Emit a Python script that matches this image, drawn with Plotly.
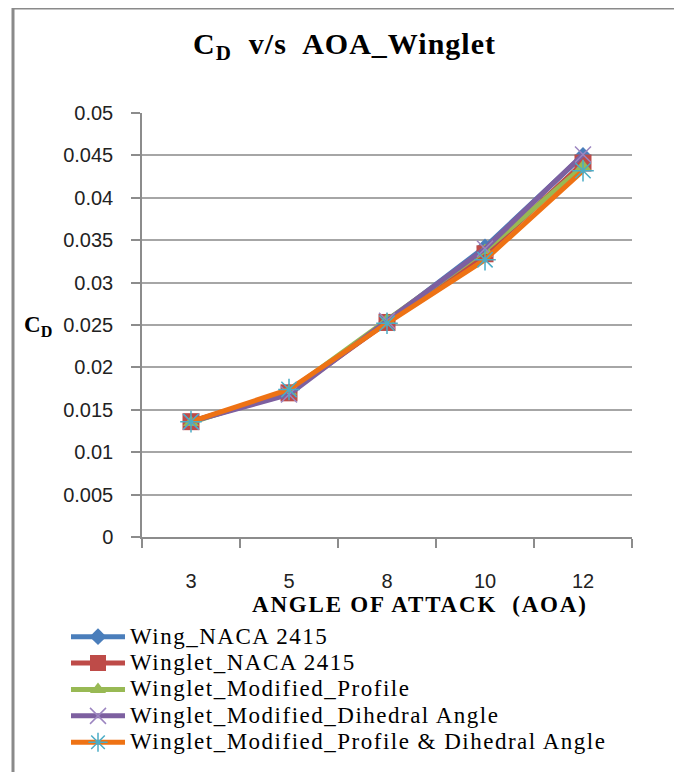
import plotly.graph_objects as go

aoa = ["3", "5", "8", "10", "12"]
wing_naca = [0.0136, 0.0171, 0.0254, 0.0342, 0.0450]
winglet_naca = [0.0136, 0.0170, 0.0253, 0.0334, 0.0441]
winglet_profile = [0.0135, 0.0172, 0.0256, 0.0338, 0.0437]
winglet_dihedral = [0.0136, 0.0168, 0.0255, 0.0340, 0.0451]
winglet_profile_dihedral = [0.0136, 0.0174, 0.0252, 0.0327, 0.0432]

names = ["Wing_NACA 2415", "Winglet_NACA 2415", "Winglet_Modified_Profile",
         "Winglet_Modified_Dihedral Angle", "Winglet_Modified_Profile & Dihedral Angle"]

series = [wing_naca, winglet_naca, winglet_profile, winglet_dihedral, winglet_profile_dihedral]
line_colors = ["#4A7EBB", "#BE4B48", "#98B954", "#7D60A0", "#EE7214"]
marker_colors = ["#4A7EBB", "#BE4B48", "#98B954", "#9C85C0", "#4BACC6"]
symbols = ["diamond", "square", "triangle-up", "x-thin", "asterisk"]
sizes = [13, 17, 14, 16, 18]

fig = go.Figure()
for name, ys, lc, mc, sym, sz in zip(names, series, line_colors, marker_colors, symbols, sizes):
    thin = sym in ("x-thin", "asterisk")
    fig.add_trace(go.Scatter(
        x=aoa, y=ys, mode="lines+markers",
        name='<span style="font-size:23px;letter-spacing:1.5px">' + name + '</span>',
        line=dict(color=lc, width=5),
        marker=dict(symbol=sym, size=sz, color=mc,
                    line=dict(color=mc, width=1.5 if thin else 0)),
    ))

# page has an 8px body margin: figure is 666x764, reference coords shifted by 8
OFF = 8
W, H = 682 - 2 * OFF, 780 - 2 * OFF
L, T = 142 - OFF, 113 - OFF
R = W - (632 - OFF)
B = H - (545 - OFF)
pw, ph = W - L - R, H - T - B

def px(x):
    return (x - OFF - L) / pw

def py(y):
    return (H - B - (y - OFF)) / ph

fig.update_layout(
    width=W, height=H,
    margin=dict(l=L, r=R, t=T, b=B, pad=0),
    paper_bgcolor="white", plot_bgcolor="white",
    showlegend=True,
    legend=dict(
        x=px(66), y=py(628), xanchor="left", yanchor="top",
        font=dict(family="Liberation Serif", size=18, color="black"),
        bgcolor="rgba(0,0,0,0)", tracegroupgap=0, itemwidth=54,
    ),
    xaxis=dict(
        type="category", range=[-0.5, 4.5], tickson="boundaries",
        ticks="outside", ticklen=9,
        tickcolor="#8c8c8c", tickwidth=1.5,
        showline=True, linecolor="#8c8c8c", linewidth=1.5,
        showgrid=False, zeroline=False,
        tickfont=dict(family="Liberation Sans", size=20, color="#222222"),
        ticklabelstandoff=25,
    ),
    yaxis=dict(
        range=[0, 0.05], dtick=0.005, tickformat="~g",
        ticks="outside", ticklen=9, tickcolor="#8c8c8c", tickwidth=1.5,
        showline=True, linecolor="#8c8c8c", linewidth=1.5,
        showgrid=True, gridcolor="#a6a6a6", gridwidth=1.5,
        zeroline=False,
        tickfont=dict(family="Liberation Sans", size=20, color="#222222"),
        ticklabelstandoff=14,
    ),
    annotations=[
        dict(text='<span style="letter-spacing:1px"><b>C<sub>D</sub>  v/s  AOA_Winglet</b></span>',
             xref="paper", yref="paper",
             x=px(344), y=py(45), xanchor="center", yanchor="middle", showarrow=False,
             font=dict(family="Liberation Serif", size=30, color="black")),
        dict(text='<span style="letter-spacing:1.8px"><b>ANGLE OF ATTACK  (AOA)</b></span>',
             xref="paper", yref="paper",
             x=px(420), y=py(614), xanchor="center", yanchor="middle", showarrow=False,
             font=dict(family="Liberation Serif", size=23, color="black")),
        dict(text="<b>C<sub>D</sub></b>", xref="paper", yref="paper",
             x=px(38), y=py(330), xanchor="center", yanchor="middle", showarrow=False,
             font=dict(family="Liberation Serif", size=23, color="black")),
    ],
    shapes=[
        dict(type="rect", xref="paper", yref="paper",
             x0=px(13), x1=px(676), y0=py(6), y1=py(800),
             line=dict(color="#8a8a8a", width=3), fillcolor="rgba(0,0,0,0)", layer="below"),
    ],
)

fig.write_html("out.html")
